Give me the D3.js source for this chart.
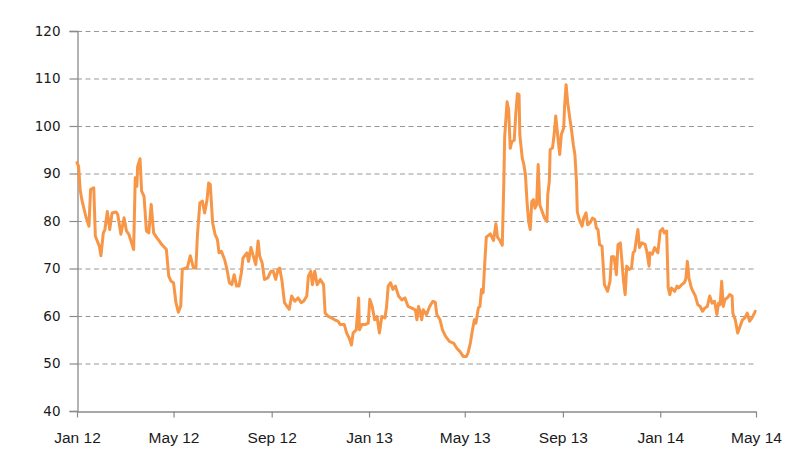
<!DOCTYPE html>
<html>
<head>
<meta charset="utf-8">
<script src="https://cdn.jsdelivr.net/npm/d3@7"></script>
<style>
  html, body { margin: 0; padding: 0; background: #fff; }
  svg { display: block; }
</style>
</head>
<body>
<svg id="chart" width="800" height="466"></svg>
<script>
// ---- Data ----
const dates = [
"2012-01-01","2012-01-03","2012-01-05","2012-01-07","2012-01-12","2012-01-16","2012-01-18","2012-01-22","2012-01-24","2012-01-29",
"2012-01-31","2012-02-03","2012-02-05","2012-02-08","2012-02-11","2012-02-14","2012-02-19","2012-02-21","2012-02-25","2012-02-29",
"2012-03-03","2012-03-06","2012-03-12","2012-03-14","2012-03-16","2012-03-17","2012-03-20","2012-03-22","2012-03-25","2012-03-28",
"2012-03-31","2012-04-03","2012-04-06","2012-04-10","2012-04-13","2012-04-16","2012-04-22","2012-04-25","2012-04-28","2012-05-01",
"2012-05-04","2012-05-07","2012-05-10","2012-05-12","2012-05-16","2012-05-18","2012-05-22","2012-05-26","2012-05-29","2012-05-31",
"2012-06-03","2012-06-06","2012-06-09","2012-06-12","2012-06-14","2012-06-16","2012-06-19","2012-06-22","2012-06-25","2012-06-27",
"2012-06-30","2012-07-04","2012-07-07","2012-07-10","2012-07-13","2012-07-16","2012-07-19","2012-07-22","2012-07-25","2012-07-27",
"2012-08-01","2012-08-03","2012-08-06","2012-08-09","2012-08-12","2012-08-15","2012-08-17","2012-08-20","2012-08-23","2012-08-27",
"2012-08-31","2012-09-03","2012-09-06","2012-09-09","2012-09-11","2012-09-14","2012-09-17","2012-09-20","2012-09-23","2012-09-26",
"2012-09-30","2012-10-04","2012-10-08","2012-10-11","2012-10-15","2012-10-17","2012-10-20","2012-10-22","2012-10-25","2012-10-28",
"2012-11-01","2012-11-05","2012-11-07","2012-11-11","2012-11-15","2012-11-19","2012-11-23","2012-11-26","2012-12-01","2012-12-04",
"2012-12-07","2012-12-10","2012-12-12","2012-12-16","2012-12-19","2012-12-20","2012-12-23","2012-12-27","2012-12-31","2013-01-02",
"2013-01-05","2013-01-08","2013-01-11","2013-01-14","2013-01-17","2013-01-21","2013-01-23","2013-01-25","2013-01-28","2013-01-31",
"2013-02-03","2013-02-07","2013-02-11","2013-02-15","2013-02-19","2013-02-23","2013-02-28","2013-03-02","2013-03-04","2013-03-06",
"2013-03-08","2013-03-10","2013-03-14","2013-03-18","2013-03-22","2013-03-25","2013-03-27","2013-03-31","2013-04-03","2013-04-07",
"2013-04-12","2013-04-17","2013-04-21","2013-04-25","2013-04-29","2013-05-03","2013-05-05","2013-05-08","2013-05-10","2013-05-13",
"2013-05-15","2013-05-18","2013-05-20","2013-05-22","2013-05-24","2013-05-26","2013-05-28","2013-06-02","2013-06-06","2013-06-09",
"2013-06-11","2013-06-14","2013-06-17","2013-06-19","2013-06-20","2013-06-23","2013-06-25","2013-06-27","2013-06-29","2013-07-02",
"2013-07-04","2013-07-06","2013-07-08","2013-07-09","2013-07-12","2013-07-14","2013-07-16","2013-07-18","2013-07-20","2013-07-22",
"2013-07-24","2013-07-26","2013-07-28","2013-07-30","2013-08-01","2013-08-02","2013-08-03","2013-08-06","2013-08-09","2013-08-12",
"2013-08-13","2013-08-15","2013-08-16","2013-08-19","2013-08-21","2013-08-23","2013-08-26","2013-08-28","2013-08-30","2013-09-02",
"2013-09-03","2013-09-05","2013-09-07","2013-09-09","2013-09-12","2013-09-14","2013-09-16","2013-09-18","2013-09-19","2013-09-21",
"2013-09-25","2013-09-27","2013-09-30","2013-10-02","2013-10-05","2013-10-08","2013-10-11","2013-10-13","2013-10-15","2013-10-17",
"2013-10-20","2013-10-23","2013-10-27","2013-10-30","2013-11-01","2013-11-04","2013-11-07","2013-11-09","2013-11-12","2013-11-14",
"2013-11-16","2013-11-18","2013-11-20","2013-11-23","2013-11-26","2013-11-28","2013-11-30","2013-12-02","2013-12-04","2013-12-06",
"2013-12-09","2013-12-13","2013-12-15","2013-12-18","2013-12-19","2013-12-22","2013-12-25","2013-12-29","2014-01-01","2014-01-04",
"2014-01-06","2014-01-09","2014-01-11","2014-01-13","2014-01-15","2014-01-19","2014-01-22","2014-01-24","2014-01-28","2014-01-31",
"2014-02-02","2014-02-04","2014-02-06","2014-02-09","2014-02-11","2014-02-14","2014-02-17","2014-02-20","2014-02-23","2014-02-26",
"2014-03-01","2014-03-04","2014-03-07","2014-03-10","2014-03-13","2014-03-15","2014-03-17","2014-03-19","2014-03-21","2014-03-23",
"2014-03-26","2014-03-29","2014-04-01","2014-04-02","2014-04-05","2014-04-08","2014-04-11","2014-04-14","2014-04-17","2014-04-20",
"2014-04-23","2014-04-26","2014-04-29","2014-04-30"
];
const values = [
92.3,91.5,86.6,84.5,81.0,78.9,86.6,87.0,76.8,74.7,
72.7,77.5,78.2,82.0,78.2,81.7,81.9,81.4,77.2,80.7,
77.9,77.2,74.0,89.1,87.3,91.5,93.1,86.3,85.2,77.9,
77.5,83.5,77.5,76.5,75.8,75.1,74.0,68.4,67.3,67.0,
62.8,60.8,62.1,69.8,70.1,70.0,72.7,70.1,70.1,77.2,
83.8,84.2,81.7,84.5,88.0,87.7,79.6,77.2,76.1,73.3,
73.6,71.9,69.8,67.0,66.6,68.7,66.3,66.3,69.1,72.2,
73.3,71.5,74.4,72.6,70.8,75.8,72.6,71.2,67.7,68.0,
69.4,69.4,67.7,69.8,70.1,67.3,62.8,62.1,61.4,64.2,
63.1,63.8,62.8,63.1,64.2,68.4,69.4,66.6,69.4,66.6,
67.7,66.6,60.6,59.9,59.6,59.2,58.9,58.2,58.2,56.4,
55.4,53.9,56.4,57.1,63.8,57.1,58.2,58.2,58.5,63.5,
62.0,59.2,59.9,56.4,59.9,59.6,62.0,66.3,67.0,65.6,
66.3,64.2,63.4,63.8,62.0,61.7,61.3,59.2,62.0,61.0,
59.2,61.3,60.3,62.0,63.1,62.9,60.3,59.2,57.1,55.7,
54.6,54.3,53.2,52.5,51.5,51.5,52.2,54.3,56.4,59.2,
58.5,61.7,62.0,65.6,64.9,71.0,76.6,77.3,75.9,79.4,
76.6,75.9,74.9,88.6,97.7,105.1,103.4,95.3,96.7,97.0,
102.7,106.8,106.6,98.2,93.3,91.9,89.8,84.1,79.9,78.2,
84.1,84.5,82.7,83.4,91.9,87.7,83.4,82.0,80.6,79.9,
85.5,88.4,95.0,95.4,98.2,102.1,97.1,94.0,98.2,99.6,
103.8,108.7,104.9,102.4,98.9,96.1,94.0,88.4,82.0,80.6,
78.9,80.6,81.7,79.2,79.6,80.6,80.3,78.5,78.2,75.0,
74.7,66.6,65.2,67.3,72.5,72.5,68.7,75.0,75.4,71.5,
67.3,64.5,70.5,69.8,70.1,73.3,73.7,76.1,78.2,74.4,
75.4,75.1,73.7,70.5,73.3,73.0,74.4,73.3,77.9,78.4,
77.5,77.9,65.9,64.5,65.9,65.2,66.3,65.9,66.6,67.0,
67.7,71.5,68.0,65.9,65.2,64.2,62.4,62.0,61.0,61.7,
62.0,64.2,62.7,63.1,60.3,62.7,62.4,67.3,62.0,63.5,
63.8,64.5,64.2,60.6,59.2,56.4,57.8,59.2,59.6,60.6,
58.9,59.6,60.6,61.0
];
const tickDates = ["2012-01-01","2012-05-01","2012-09-01","2013-01-01","2013-05-01","2013-09-01","2014-01-01","2014-05-01"];
const tickLabels = ["Jan 12","May 12","Sep 12","Jan 13","May 13","Sep 13","Jan 14","May 14"];
const yTicks = [40,50,60,70,80,90,100,110,120];

// ---- Drawing ----
const parse = d3.timeParse("%Y-%m-%d");
const data = dates.map((d, i) => ({ date: parse(d), value: values[i] }));
const tDates = tickDates.map(parse);

const svg = d3.select("#chart");
const mLeft = 77, mRight = 756, mTop = 31, mBottom = 411;

const x = d3.scaleTime().domain([parse("2012-01-01"), parse("2014-05-01")]).range([mLeft, mRight]);
const y = d3.scaleLinear().domain([40, 120]).range([mBottom, mTop]);

const axisColor = "#8a8a8a";

// gridlines
svg.append("g").selectAll("line")
  .data(yTicks.filter(t => t > 40))
  .join("line")
  .attr("x1", mLeft).attr("x2", mRight)
  .attr("y1", d => y(d) + 0.5).attr("y2", d => y(d) + 0.5)
  .attr("stroke", "#999")
  .attr("stroke-width", 1.2)
  .attr("stroke-dasharray", "5,3.5");

// y axis
const yAxis = svg.append("g")
  .attr("transform", `translate(${mLeft + 0.5},0)`)
  .call(d3.axisLeft(y).tickValues(yTicks).tickSize(8).tickPadding(9).tickFormat(d3.format("d")));
yAxis.select(".domain").attr("stroke", axisColor).attr("stroke-width", 1.3);
yAxis.selectAll(".tick line").attr("stroke", axisColor).attr("stroke-width", 1.2);
yAxis.selectAll("text")
  .attr("font-family", "'DejaVu Sans', Verdana, sans-serif")
  .attr("font-size", 13.5)
  .attr("fill", "#1a1a1a");

// x axis
const xAxis = svg.append("g")
  .attr("transform", `translate(0,${mBottom + 0.5})`)
  .call(d3.axisBottom(x).tickValues(tDates).tickSize(6).tickSizeOuter(0).tickPadding(14)
    .tickFormat((d, i) => tickLabels[i]));
xAxis.select(".domain").attr("stroke", axisColor).attr("stroke-width", 1.3);
xAxis.selectAll(".tick line").attr("stroke", axisColor).attr("stroke-width", 1.2);
xAxis.selectAll("text")
  .attr("font-family", "'Liberation Sans Narrow', 'Arial Narrow', 'Liberation Sans', sans-serif")
  .attr("font-size", 15.5)
  .attr("fill", "#1a1a1a");

// line
const line = d3.line()
  .x(d => x(d.date))
  .y(d => y(d.value));

svg.append("path")
  .datum(data)
  .attr("fill", "none")
  .attr("stroke", "#F79646")
  .attr("stroke-width", 3)
  .attr("stroke-linejoin", "round")
  .attr("stroke-linecap", "round")
  .attr("d", line);
</script>
</body>
</html>
